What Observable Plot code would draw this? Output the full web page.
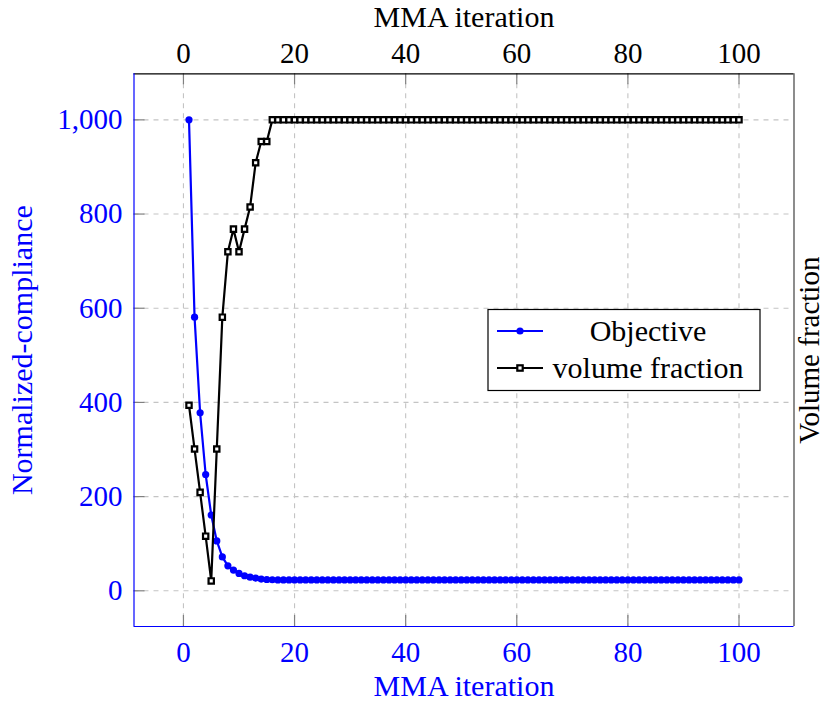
<!DOCTYPE html>
<html>
<head>
<meta charset="utf-8">
<script src="https://cdn.jsdelivr.net/npm/d3@7"></script>
<script src="https://cdn.jsdelivr.net/npm/@observablehq/plot@0.6"></script>
<style>
  html, body { margin: 0; padding: 0; background: white; }
  #wrap { position: relative; width: 827px; height: 706px; }
  #legend { position: absolute; left: 0; top: 0; }
  #wrap svg text { font-family: 'Liberation Serif', 'DejaVu Serif', serif; }
</style>
</head>
<body>
<div id="wrap"></div>
<script>
// ---- data ----
const iterations = d3.range(1, 101);
const objective = [
  1000, 581, 378, 247, 161, 106, 72, 53, 44, 37,
  32, 29, 27, 25, 24, 23.5, 23, 23, 23, 23,
  23, 23, 23, 23, 23, 23, 23, 23, 23, 23,
  23, 23, 23, 23, 23, 23, 23, 23, 23, 23,
  23, 23, 23, 23, 23, 23, 23, 23, 23, 23,
  23, 23, 23, 23, 23, 23, 23, 23, 23, 23,
  23, 23, 23, 23, 23, 23, 23, 23, 23, 23,
  23, 23, 23, 23, 23, 23, 23, 23, 23, 23,
  23, 23, 23, 23, 23, 23, 23, 23, 23, 23,
  23, 23, 23, 23, 23, 23, 23, 23, 23, 23
];
// volume fraction, expressed in the left-axis units as drawn
const volumeFraction = [
  394, 301, 209, 116, 21, 301, 581, 720, 768, 720,
  768, 815, 909, 954, 954, 1000, 1000, 1000, 1000, 1000,
  1000, 1000, 1000, 1000, 1000, 1000, 1000, 1000, 1000, 1000,
  1000, 1000, 1000, 1000, 1000, 1000, 1000, 1000, 1000, 1000,
  1000, 1000, 1000, 1000, 1000, 1000, 1000, 1000, 1000, 1000,
  1000, 1000, 1000, 1000, 1000, 1000, 1000, 1000, 1000, 1000,
  1000, 1000, 1000, 1000, 1000, 1000, 1000, 1000, 1000, 1000,
  1000, 1000, 1000, 1000, 1000, 1000, 1000, 1000, 1000, 1000,
  1000, 1000, 1000, 1000, 1000, 1000, 1000, 1000, 1000, 1000,
  1000, 1000, 1000, 1000, 1000, 1000, 1000, 1000, 1000, 1000
];
const xTicks = [0, 20, 40, 60, 80, 100];
const yTicks = [0, 200, 400, 600, 800, 1000];
const xLabel = "MMA iteration";
const yLabelLeft = "Normalized-compliance";
const yLabelRight = "Volume fraction";
const seriesNames = ["Objective", "volume fraction"];

const objData = iterations.map((it, i) => ({it, v: objective[i]}));
const volData = iterations.map((it, i) => ({it, v: volumeFraction[i]}));

const xDomain = [-8.9, 109.9];
const yDomain = [-75.8, 1097.8];

const FONT = "'Liberation Serif', 'DejaVu Serif', serif";
const BLUE = "#0000ff";
const TICK = "#808080";
const GRID = "#c4c4c4";

const chart = Plot.plot({
  width: 827,
  height: 706,
  marginLeft: 133.5,
  marginRight: 33.5,
  marginTop: 73.3,
  marginBottom: 80,
  x: {domain: xDomain},
  y: {domain: yDomain},
  style: {fontFamily: FONT, background: "white", overflow: "visible"},
  marks: [
    Plot.gridX(xTicks, {stroke: GRID, strokeOpacity: 1, strokeWidth: 1.1, strokeDasharray: "5,5"}),
    Plot.gridY(yTicks, {stroke: GRID, strokeOpacity: 1, strokeWidth: 1.1, strokeDasharray: "5,5"}),
    // inward ticks
    Plot.tickX(xTicks, {x: d => d, stroke: TICK, strokeWidth: 1.2, insetTop: 552.7 - 11}),
    Plot.tickX(xTicks, {x: d => d, stroke: TICK, strokeWidth: 1.2, insetBottom: 552.7 - 11}),
    Plot.tickY(yTicks, {y: d => d, stroke: TICK, strokeWidth: 1.2, insetRight: 660 - 11}),
    // tick labels
    Plot.axisX(xTicks, {anchor: "bottom", tickSize: 0, tickPadding: 15, fontSize: 29, fontFamily: FONT, fill: BLUE, label: null, tickFormat: d => String(d)}),
    Plot.axisX(xTicks, {anchor: "top", tickSize: 0, tickPadding: 11, fontSize: 29, fontFamily: FONT, fill: "black", label: null, tickFormat: d => String(d)}),
    Plot.axisY(yTicks, {anchor: "left", tickSize: 0, tickPadding: 11.5, fontSize: 29, fontFamily: FONT, fill: BLUE, label: null, tickFormat: d3.format(",")}),
    // axis titles
    Plot.text([xLabel], {text: d => d, frameAnchor: "bottom", dy: 60, fontSize: 30, fontFamily: FONT, fill: BLUE, lineAnchor: "middle"}),
    Plot.text([xLabel], {text: d => d, frameAnchor: "top", dy: -56, fontSize: 30, fontFamily: FONT, fill: "black", lineAnchor: "middle"}),
    Plot.text([yLabelLeft], {text: d => d, frameAnchor: "left", dx: -111.5, rotate: -90, fontSize: 30, fontFamily: FONT, fill: BLUE, textAnchor: "middle", lineAnchor: "middle"}),
    Plot.text([yLabelRight], {text: d => d, frameAnchor: "right", dx: 15.5, rotate: -90, fontSize: 29, fontFamily: FONT, fill: "black", textAnchor: "middle", lineAnchor: "middle"}),
    // frame
    Plot.ruleY([yDomain[1]], {stroke: "black", strokeWidth: 1.2}),
    Plot.ruleX([xDomain[1]], {stroke: "#404040", strokeWidth: 1.2}),
    Plot.ruleX([xDomain[0]], {stroke: BLUE, strokeWidth: 1.2}),
    Plot.ruleY([yDomain[0]], {stroke: BLUE, strokeWidth: 1.2}),
    // series
    Plot.line(objData, {x: "it", y: "v", stroke: BLUE, strokeWidth: 2.2}),
    Plot.dot(objData, {x: "it", y: "v", fill: BLUE, stroke: "none", r: 3.6}),
    Plot.line(volData, {x: "it", y: "v", stroke: "black", strokeWidth: 2.2}),
    Plot.dot(volData, {x: "it", y: "v", symbol: "square", fill: "white", stroke: "black", strokeWidth: 2.2, r: 3})
  ]
});

const wrap = document.getElementById("wrap");
wrap.appendChild(chart);

// legend overlay (inside the plot frame, as in the reference)
const ns = "http://www.w3.org/2000/svg";
const leg = document.createElementNS(ns, "svg");
leg.setAttribute("id", "legend");
leg.setAttribute("width", 827);
leg.setAttribute("height", 706);
leg.setAttribute("font-family", FONT);
const lx = 488, ly = 309.5, lw = 272, lh = 81;
leg.innerHTML = `
  <rect x="${lx}" y="${ly}" width="${lw}" height="${lh}" fill="white" stroke="black" stroke-width="1.2"/>
  <line x1="${lx + 9}" x2="${lx + 55}" y1="${ly + 21.5}" y2="${ly + 21.5}" stroke="${BLUE}" stroke-width="2.2"/>
  <circle cx="${lx + 32}" cy="${ly + 21.5}" r="3.6" fill="${BLUE}"/>
  <text x="${lx + 160}" y="${ly + 21.5}" dy="0.32em" text-anchor="middle" font-size="30">${seriesNames[0]}</text>
  <line x1="${lx + 9}" x2="${lx + 55}" y1="${ly + 58.5}" y2="${ly + 58.5}" stroke="black" stroke-width="2.2"/>
  <rect x="${lx + 32 - 2.7}" y="${ly + 58.5 - 2.7}" width="5.4" height="5.4" fill="white" stroke="black" stroke-width="2.2"/>
  <text x="${lx + 160}" y="${ly + 58.5}" dy="0.32em" text-anchor="middle" font-size="30">${seriesNames[1]}</text>
`;
wrap.appendChild(leg);
</script>
</body>
</html>
